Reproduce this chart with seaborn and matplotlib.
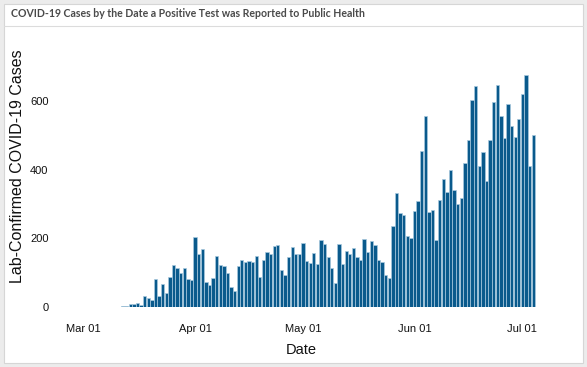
import numpy as np
import pandas as pd
import seaborn as sns
import matplotlib.pyplot as plt
from matplotlib.patches import Rectangle
from matplotlib.lines import Line2D

# daily lab-confirmed cases, Mar 05 .. Jul 05 2020
first_day = '2020-03-05'
cases = [1, 0, 0, 1, 0, 1, 1, 4, 4, 10, 10, 13, 7, 32, 27, 20, 82, 32, 67, 40,
         88, 122, 114, 100, 113, 81, 80, 203, 154, 170, 72, 65, 84, 149, 123, 119,
         98, 57, 46, 120, 136, 130, 134, 130, 148, 87, 137, 160, 154, 178, 180, 108,
         93, 146, 176, 154, 154, 187, 133, 128, 156, 125, 194, 184, 147, 114, 71, 182,
         126, 163, 153, 171, 147, 136, 197, 160, 193, 180, 137, 130, 92, 83, 235, 331,
         275, 267, 206, 200, 279, 309, 454, 556, 276, 281, 194, 311, 372, 335, 398, 342,
         301, 317, 418, 486, 603, 642, 411, 452, 366, 487, 598, 646, 555, 493, 590, 526,
         496, 548, 619, 676, 411, 500]
tick_dates = ['2020-03-01', '2020-04-01', '2020-05-01', '2020-06-01', '2020-07-01']
tick_labels = ['Mar 01', 'Apr 01', 'May 01', 'Jun 01', 'Jul 01']
y_ticks = [0, 200, 400, 600]

origin = pd.Timestamp('2020-03-01')
dates = pd.date_range(first_day, periods=len(cases), freq='D')
df = pd.DataFrame({'day': (dates - origin).days, 'cases': cases})

sns.set_theme(style='white')
plt.rcParams['font.family'] = ['Liberation Sans', 'DejaVu Sans']

fig = plt.figure(figsize=(5.87, 3.67), dpi=100)
fig.patch.set_facecolor('#ececec')

# white card with header
fig.patches.append(Rectangle((0.006, 0.012), 0.988, 0.978, transform=fig.transFigure,
                             facecolor='white', edgecolor='#d6d6d6', linewidth=0.8, zorder=-5))
fig.lines.append(Line2D([0.006, 0.994], [0.93, 0.93], transform=fig.transFigure,
                        color='#dcdcdc', linewidth=0.8, zorder=-4))
fig.text(0.018, 0.962, 'COVID-19 Cases by the Date a Positive Test was Reported to Public Health',
         fontsize=7.6, fontweight='bold', color='#4a4a4a', va='center', ha='left',
         family=['Lato', 'DejaVu Sans'])

ax = fig.add_axes([0.097, 0.1635, 0.831, 0.73])
ax.set_zorder(2)
ax.set_facecolor('none')
sns.barplot(data=df, x='day', y='cases', native_scale=True, width=0.92,
            color='#0a5a8c', saturation=1, edgecolor='#a9c9de', linewidth=0.5, ax=ax)

ax.set_xlim(-7.4, 128.2)
ax.set_ylim(0, 780)
ax.set_xticks([(pd.Timestamp(d) - origin).days for d in tick_dates])
ax.set_xticklabels(tick_labels)
ax.set_yticks(y_ticks)
ax.tick_params(axis='both', labelsize=8, colors='#111111', length=0, pad=6)
ax.tick_params(axis='x', pad=12)
for s in ax.spines.values():
    s.set_visible(False)

ax.set_xlabel('Date', fontsize=10.5, color='#111111')
ax.set_ylabel('Lab-Confirmed COVID-19 Cases', fontsize=11.5, color='#111111')
ax.xaxis.set_label_coords(0.5, -0.135)
ax.yaxis.set_label_coords(-0.066, 0.526)

fig.savefig('out.png', dpi=100, facecolor=fig.get_facecolor())
